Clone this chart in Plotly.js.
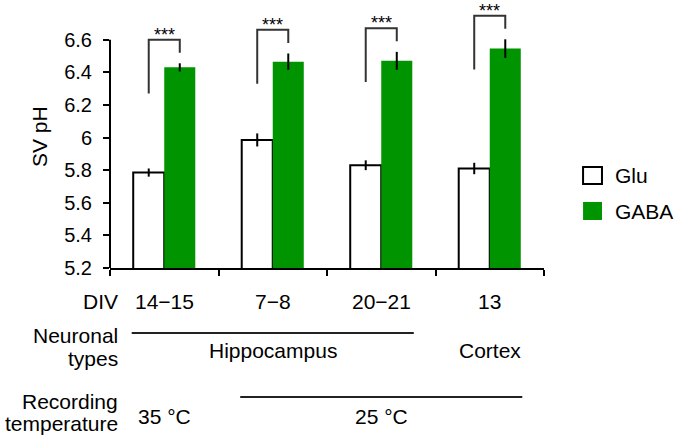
<!DOCTYPE html>
<html>
<head>
<meta charset="utf-8">
<script src="https://cdn.plot.ly/plotly-3.0.1.min.js"></script>
<style>
  html, body { margin: 0; padding: 0; background: #fff; }
  #chart { width: 677px; height: 437px; }
</style>
</head>
<body>
<div id="chart"></div>
<script>
// values
const divLabels = ['14\u221215', '7\u22128', '20\u221221', '13'];
const gluMean = [5.785, 5.985, 5.83, 5.81];
const gluErr = [0.025, 0.04, 0.03, 0.035];
const gabaMean = [6.43, 6.465, 6.47, 6.545];
const gabaErr = [0.025, 0.05, 0.055, 0.057];
const sigLabels = ['***', '***', '***', '***'];
const yTicks = [5.2, 5.4, 5.6, 5.8, 6.0, 6.2, 6.4, 6.6];
const yTickText = ['5.2', '5.4', '5.6', '5.8', '6', '6.2', '6.4', '6.6'];
// grouping rows under the axis: [label, first category, last category]
const neuronGroups = [['Hippocampus', 0, 2], ['Cortex', 3, 3]];
const tempGroups = [['35 \u00b0C', 0, 0], ['25 \u00b0C', 1, 3]];

const FONT = 'Liberation Sans, Arial, sans-serif';
const LABEL_SIZE = 21;
const GREEN = '#009400';
const BAR_OFF = 0.143; // half a bar in category units

const xs = divLabels.map((_, i) => i);

const traces = [
  {
    type: 'bar', name: 'Glu', x: xs, y: gluMean,
    marker: { color: '#ffffff', line: { color: '#000', width: 2 } },
    error_y: { type: 'data', array: gluErr, visible: true, color: '#000', thickness: 2, width: 0 },
    showlegend: false, hoverinfo: 'skip',
  },
  {
    type: 'bar', name: 'GABA', x: xs, y: gabaMean,
    marker: { color: GREEN, line: { width: 0 } },
    error_y: { type: 'data', array: gabaErr, visible: true, color: '#000', thickness: 2, width: 0 },
    showlegend: false, hoverinfo: 'skip',
  },
];

const shapes = [];
const annotations = [];
const txt = (size) => ({ family: FONT, size: size || LABEL_SIZE, color: '#000' });

// y axis line only up to the last tick
shapes.push({
  type: 'line', xref: 'paper', yref: 'y', x0: 0, x1: 0,
  y0: yTicks[0], y1: yTicks[yTicks.length - 1],
  line: { color: '#000', width: 2 },
});

// significance brackets
xs.forEach((i) => {
  const top = gabaMean[i] + gabaErr[i] + 0.145;
  const xl = i - BAR_OFF, xr = i + BAR_OFF;
  shapes.push({
    type: 'path', xref: 'x', yref: 'y',
    path: `M${xl},${top - 0.33} L${xl},${top} L${xr},${top} L${xr},${top - 0.08}`,
    line: { color: '#333', width: 2 },
  });
  annotations.push({
    xref: 'x', yref: 'y', x: i, y: top, yanchor: 'bottom', yshift: -7,
    text: sigLabels[i], showarrow: false, font: txt(18),
  });
});

// DIV row
annotations.push({
  xref: 'paper', yref: 'paper', x: 0.022, y: -0.128, xanchor: 'right', yanchor: 'middle',
  text: 'DIV', showarrow: false, font: txt(),
});
divLabels.forEach((lab, i) => {
  annotations.push({
    xref: 'x', yref: 'paper', x: i, y: -0.128, yanchor: 'middle',
    text: lab, showarrow: false, font: txt(),
  });
});

// row titles
[['Neuronal', -0.257], ['types', -0.345], ['Recording', -0.51], ['temperature', -0.595]].forEach(([t, y]) => {
  annotations.push({
    xref: 'paper', yref: 'paper', x: 0.022, y: y, xanchor: 'right', yanchor: 'middle',
    text: t, showarrow: false, font: txt(),
  });
});

function groupRow(groups, lineY, textY) {
  groups.forEach(([lab, a, b]) => {
    if (b > a) {
      shapes.push({
        type: 'line', xref: 'x', yref: 'paper', x0: a - 0.3, x1: b + 0.3, y0: lineY, y1: lineY,
        line: { color: '#222', width: 2 },
      });
    }
    annotations.push({
      xref: 'x', yref: 'paper', x: (a + b) / 2, y: textY, yanchor: 'middle',
      text: lab, showarrow: false, font: txt(),
    });
  });
}
groupRow(neuronGroups, -0.249, -0.318);
groupRow(tempGroups, -0.494, -0.569);

// y title
annotations.push({
  xref: 'paper', yref: 'paper', x: -0.161, y: 0.502, xanchor: 'center', yanchor: 'middle',
  textangle: -90, text: 'SV pH', showarrow: false, font: txt(),
});

// legend, drawn by hand so the swatches match the figure
shapes.push({
  type: 'rect', xref: 'paper', yref: 'paper', x0: 1.09, x1: 1.1336, y0: 0.322, y1: 0.387,
  fillcolor: '#fff', line: { color: '#000', width: 2 },
});
shapes.push({
  type: 'rect', xref: 'paper', yref: 'paper', x0: 1.09, x1: 1.1336, y0: 0.184, y1: 0.253,
  fillcolor: GREEN, line: { width: 0 },
});
[['Glu', 0.354], ['GABA', 0.218]].forEach(([t, y]) => {
  annotations.push({
    xref: 'paper', yref: 'paper', x: 1.16, y: y, xanchor: 'left', yanchor: 'middle',
    text: t, showarrow: false, font: txt(),
  });
});

const layout = {
  width: 677, height: 437,
  margin: { l: 110, r: 133, t: 7, b: 169 },
  paper_bgcolor: '#fff', plot_bgcolor: '#fff',
  barmode: 'group', bargap: 0.428, bargroupgap: 0,
  font: { family: FONT, size: 20, color: '#000' },
  xaxis: {
    type: 'linear', range: [-0.5, 3.5], fixedrange: true,
    tickvals: [-0.5, 0.5, 1.5, 2.5, 3.5], ticktext: ['', '', '', '', ''],
    ticks: 'outside', ticklen: 6, tickwidth: 2, tickcolor: '#000',
    showline: true, linecolor: '#000', linewidth: 2,
    showgrid: false, zeroline: false,
  },
  yaxis: {
    range: [5.2, 6.8], fixedrange: true,
    tickvals: yTicks, ticktext: yTickText,
    ticks: 'outside', ticklen: 6, tickwidth: 2, tickcolor: '#000',
    ticklabelstandoff: 7,
    tickfont: txt(20),
    showline: false, showgrid: false, zeroline: false,
  },
  shapes: shapes,
  annotations: annotations,
  showlegend: false,
};

Plotly.newPlot('chart', traces, layout, { displayModeBar: false, staticPlot: true });
</script>
</body>
</html>
